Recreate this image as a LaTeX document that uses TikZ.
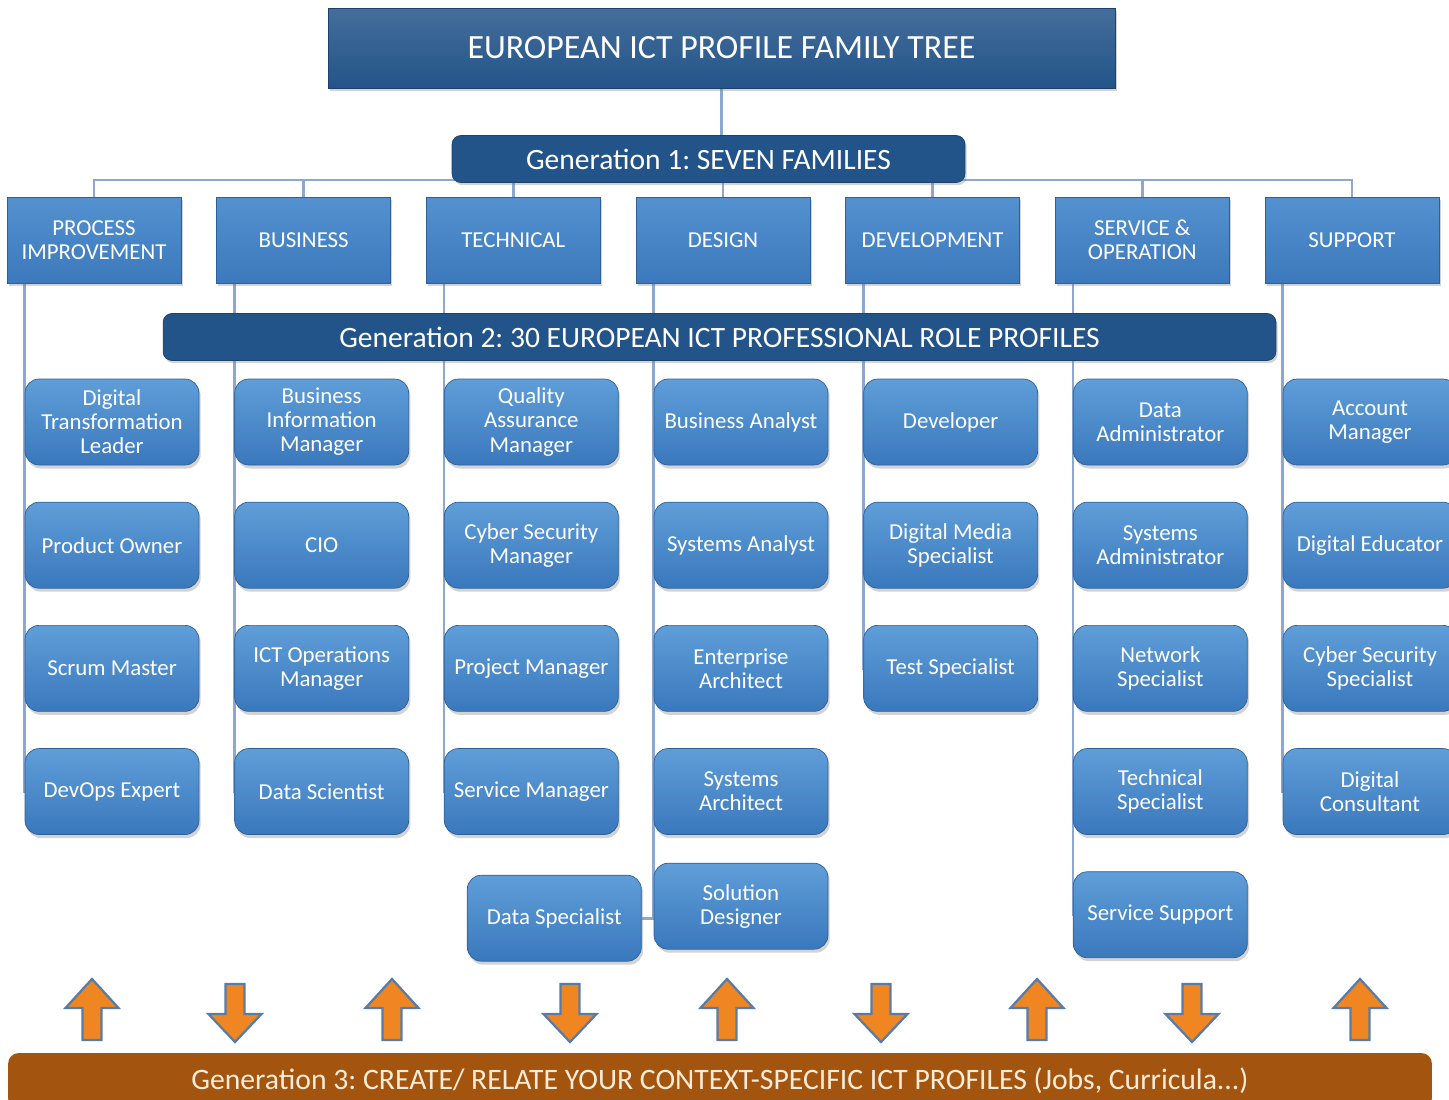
\documentclass[tikz,border=0pt]{standalone}
\usepackage{fontspec}
\setmainfont{Carlito}
\usepackage{xcolor}
\usepackage{tikz}
\usetikzlibrary{positioning, shadows}
\frenchspacing

\pgfdeclarelayer{background}
\pgfsetlayers{background,main}

\definecolor{navy}{RGB}{35,84,137}
\definecolor{navyedge}{RGB}{28,66,108}
\definecolor{roletop}{RGB}{95,158,216}
\definecolor{rolebot}{RGB}{58,120,189}
\definecolor{famtop}{RGB}{84,145,208}
\definecolor{fambot}{RGB}{60,121,188}
\definecolor{linkblue}{RGB}{140,168,208}
\definecolor{arrowfill}{RGB}{240,134,33}
\definecolor{arrowedge}{RGB}{88,124,166}
\definecolor{barbrown}{RGB}{163,85,15}
\definecolor{bartext}{RGB}{250,236,216}

\begin{document}
\begin{tikzpicture}[
    x=0.02cm, y=-0.02cm,
    node distance=0.73cm and 0.7cm,
    every node/.style={text=white, font=\fontsize{13pt}{13.7pt}\selectfont},
    headbox/.style={rectangle, draw=navyedge, top color=navy!85!white, bottom color=navy, minimum width=15.74cm, minimum height=1.6cm, font=\fontsize{19.3pt}{22pt}\selectfont, drop shadow={shadow xshift=1pt, shadow yshift=-1.5pt, opacity=.35}},
    genbox/.style={rectangle, rounded corners=5pt, draw=navyedge, fill=navy, minimum height=0.94cm, font=\fontsize{16.8pt}{19pt}\selectfont, drop shadow={shadow xshift=1pt, shadow yshift=-1.5pt, opacity=.35}},
    family/.style={rectangle, draw=rolebot!80!black, top color=famtop, bottom color=fambot, minimum width=3.48cm, minimum height=1.72cm, align=center, drop shadow={shadow xshift=1pt, shadow yshift=-1.5pt, opacity=.35}},
    role/.style={rectangle, rounded corners=8pt, draw=rolebot!80!black, top color=roletop, bottom color=rolebot, minimum width=3.48cm, minimum height=1.72cm, align=center, drop shadow={shadow xshift=1pt, shadow yshift=-2pt, opacity=.35}},
    link/.style={draw=linkblue, line width=1.6pt},
    flow/.style={draw=arrowedge, fill=arrowfill, line width=1.3pt, line join=miter},
    uparrow/.pic={\draw[flow] (-9.5,0) -- (-9.5,-32) -- (-26.5,-32) -- (0,-61) -- (26.5,-32) -- (9.5,-32) -- (9.5,0) -- cycle;},
    downarrow/.pic={\draw[flow] (-9.5,0) -- (-9.5,30) -- (-26.5,30) -- (0,58) -- (26.5,30) -- (9.5,30) -- (9.5,0) -- cycle;}
]
\useasboundingbox (0,0) rectangle (1449,1099);

% Title and generations
\node[headbox] (title) at (721.5,48) {EUROPEAN ICT PROFILE FAMILY TREE};
\node[genbox, minimum width=10.26cm] (g1) at (708.5,159) {Generation 1: SEVEN FAMILIES};
\node[genbox, minimum width=22.26cm] (g2) at (719.5,337) {Generation 2: 30 EUROPEAN ICT PROFESSIONAL ROLE PROFILES};
\coordinate (bus) at (722,180);

% Families
\node[family] (pi) at (94,240) {PROCESS\\IMPROVEMENT};
\node[family, right=of pi] (bu) {BUSINESS};
\node[family, right=of bu] (te) {TECHNICAL};
\node[family, right=of te] (de) {DESIGN};
\node[family, right=of de] (dv) {DEVELOPMENT};
\node[family, right=of dv] (so) {SERVICE \&\\OPERATION};
\node[family, right=of so] (su) {SUPPORT};

% Role profiles, first row
\node[role] (dtl) at (112,422) {Digital\\Transformation\\Leader};
\node[role, right=of dtl] (bim) {Business\\Information\\Manager};
\node[role, right=of bim] (qam) {Quality\\Assurance\\Manager};
\node[role, right=of qam] (ba) {Business Analyst};
\node[role, right=of ba] (dev) {Developer};
\node[role, right=of dev] (da) {Data\\Administrator};
\node[role, right=of da] (am) {Account\\Manager};

% Process improvement
\node[role, below=of dtl] (po) {Product Owner};
\node[role, below=of po] (sm) {Scrum Master};
\node[role, below=of sm] (doe) {DevOps Expert};

% Business
\node[role, below=of bim] (cio) {CIO};
\node[role, below=of cio] (icto) {ICT Operations\\Manager};
\node[role, below=of icto] (dsc) {Data Scientist};

% Technical
\node[role, below=of qam] (csm) {Cyber Security\\Manager};
\node[role, below=of csm] (pm) {Project Manager};
\node[role, below=of pm] (svm) {Service Manager};

% Design
\node[role, below=of ba] (sa) {Systems Analyst};
\node[role, below=of sa] (ea) {Enterprise\\Architect};
\node[role, below=of ea] (sya) {Systems\\Architect};
\node[role, below=0.56cm of sya] (sd) {Solution\\Designer};
\node[role, left=0.24cm of sd, yshift=-0.24cm] (dsp) {Data Specialist};

% Development
\node[role, below=of dev] (dms) {Digital Media\\Specialist};
\node[role, below=of dms] (ts) {Test Specialist};

% Service and operation
\node[role, below=of da] (sysad) {Systems\\Administrator};
\node[role, below=of sysad] (ns) {Network\\Specialist};
\node[role, below=of ns] (tes) {Technical\\Specialist};
\node[role, below=of tes] (ssu) {Service Support};

% Support
\node[role, below=of am] (ded) {Digital Educator};
\node[role, below=of ded] (css) {Cyber Security\\Specialist};
\node[role, below=of css] (dc) {Digital\\Consultant};

% Generation 3
\node[rectangle, rounded corners=6pt, fill=barbrown, text=bartext, minimum width=28.48cm, minimum height=1.12cm, font=\fontsize{16.9pt}{19pt}\selectfont] (g3) at (720,1081) {Generation 3: CREATE/ RELATE YOUR CONTEXT-SPECIFIC ICT PROFILES (Jobs, Curricula...)};

% Connectors
\begin{pgfonlayer}{background}
\draw[link] (title.south) -- (title.south |- g1.north);
\draw[link] (pi.north) |- (bus);
\draw[link] (bu.north) |- (bus);
\draw[link] (te.north) |- (bus);
\draw[link] (de.north) |- (bus);
\draw[link] (dv.north) |- (bus);
\draw[link] (so.north) |- (bus);
\draw[link] (su.north) |- (bus);

\draw[link] ([xshift=0.36cm]pi.south west) |- (doe.west);
\draw[link] ([xshift=0.36cm]bu.south west) |- (dsc.west);
\draw[link] ([xshift=0.36cm]te.south west) |- (svm.west);
\draw[link] ([xshift=0.36cm]de.south west) |- (dsp.east);
\draw[link] ([xshift=0.36cm]dv.south west) |- (ts.west);
\draw[link] ([xshift=0.36cm]so.south west) |- (ssu.west);
\draw[link] ([xshift=0.36cm]su.south west) |- (dc.west);
\end{pgfonlayer}

% Up and down arrows
\pic at (92,1040) {uparrow};
\pic at (235,984) {downarrow};
\pic at (392,1040) {uparrow};
\pic at (570,984) {downarrow};
\pic at (727,1040) {uparrow};
\pic at (881,984) {downarrow};
\pic at (1037,1040) {uparrow};
\pic at (1192,984) {downarrow};
\pic at (1360,1040) {uparrow};

\end{tikzpicture}
\end{document}
